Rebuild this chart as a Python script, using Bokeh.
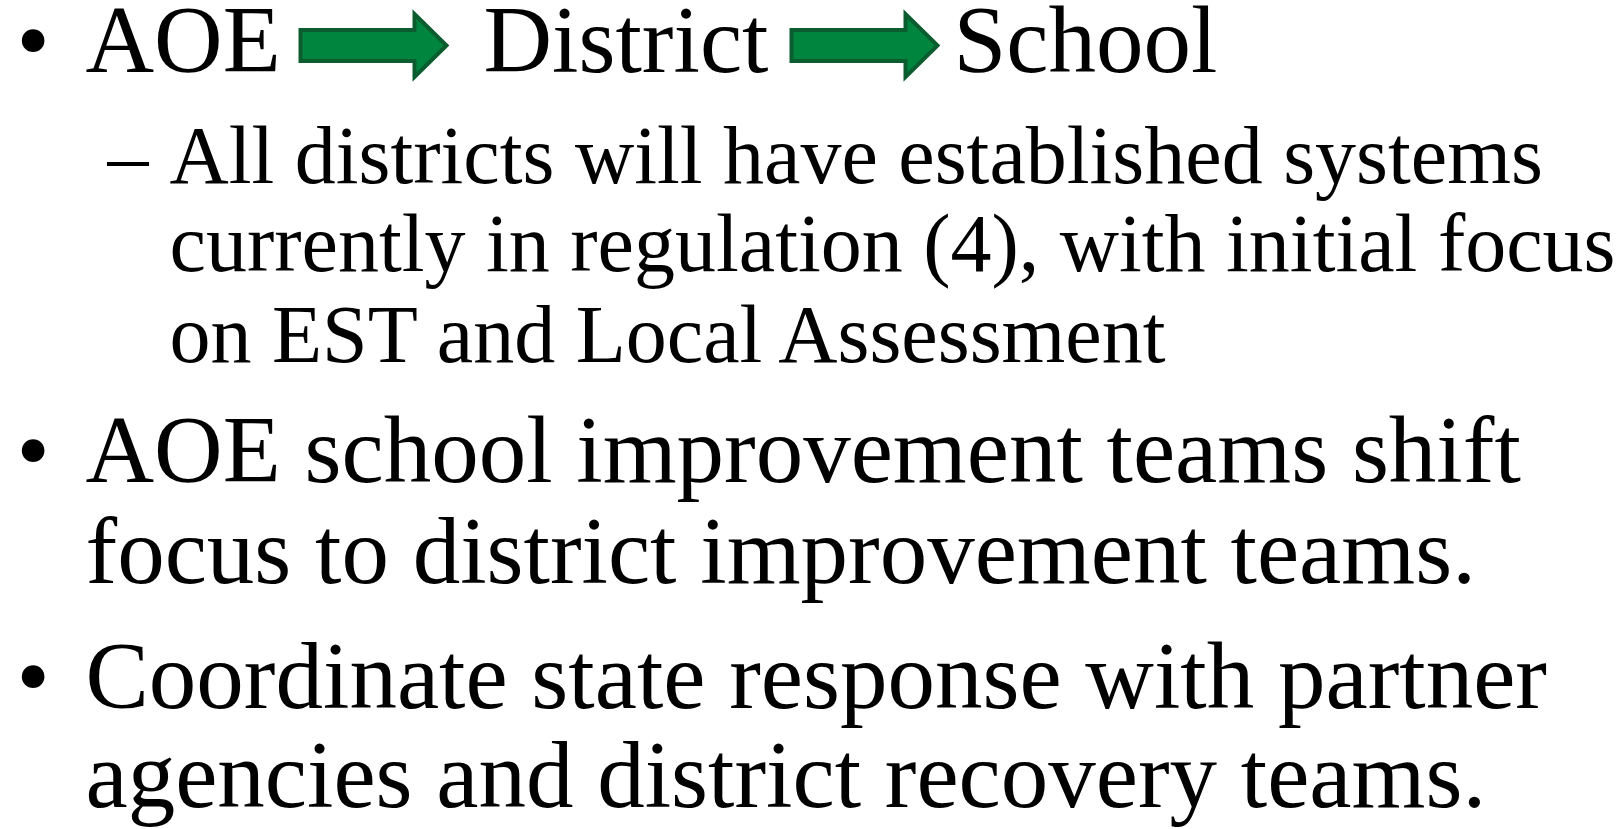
from bokeh.plotting import figure
from bokeh.models import Range1d
from bokeh.core.properties import value
from bokeh.embed import file_html
from bokeh.resources import INLINE

# ---- content ----
flow_words = ["AOE", "District", "School"]
sub_lines = [
    "All districts will have established systems",
    "currently in regulation (4), with initial focus",
    "on EST and Local Assessment",
]
bullet2_lines = [
    "AOE school improvement teams shift",
    "focus to district improvement teams.",
]
bullet3_lines = [
    "Coordinate state response with partner",
    "agencies and district recovery teams.",
]
bullet_char = "\u2022"
dash_char = "\u2013"

# ---- layout (pixel coordinates of the slide) ----
W, H = 1624, 829
FONT = "Liberation Serif"
MAIN_SIZE = 95
SUB_SIZE = 82
BASE_FIX = 0.335  # empirical shift so that y is the alphabetic baseline

p = figure(width=W, height=H, output_backend="svg", toolbar_location=None,
           x_range=Range1d(0, W), y_range=Range1d(H, 0),
           min_border=0, outline_line_color=None, background_fill_color="white",
           border_fill_color="white")
p.axis.visible = False
p.grid.visible = False


def put(x, y, t, size):
    p.text(x=[x], y=[y - BASE_FIX * size], text=[t], text_font=value(FONT),
           text_font_size=f"{size}px", text_color="black",
           text_align="left", text_baseline="alphabetic")


def arrow(x0, x1, yc):
    head_len = 32
    body_h, head_h = 31, 63
    xh = x1 - head_len
    xs = [x0, xh, xh, x1, xh, xh, x0]
    ys = [yc - body_h / 2, yc - body_h / 2, yc - head_h / 2, yc,
          yc + head_h / 2, yc + body_h / 2, yc + body_h / 2]
    p.patch(xs, ys, fill_color="#00853e", line_color="#0b5c2e", line_width=4,
            line_join="miter")


# line 1: flow
base1 = 71
put(16, base1, bullet_char, MAIN_SIZE)
flow_x = [85, 483, 953]
for w, x in zip(flow_words, flow_x):
    put(x, base1, w, MAIN_SIZE)
arrow(300, 446, 45)
arrow(791, 937, 45)

# sub lines
sub_base = [182, 270, 361]
put(107, sub_base[0], dash_char, SUB_SIZE)
for t, y in zip(sub_lines, sub_base):
    put(169, y, t, SUB_SIZE)

# bullet 2
b2 = [481, 582]
put(16, b2[0], bullet_char, MAIN_SIZE)
for t, y in zip(bullet2_lines, b2):
    put(85, y, t, MAIN_SIZE)

# bullet 3
b3 = [707, 806]
put(16, b3[0], bullet_char, MAIN_SIZE)
for t, y in zip(bullet3_lines, b3):
    put(85, y, t, MAIN_SIZE)

open("out.html", "w").write(file_html(p, INLINE))
